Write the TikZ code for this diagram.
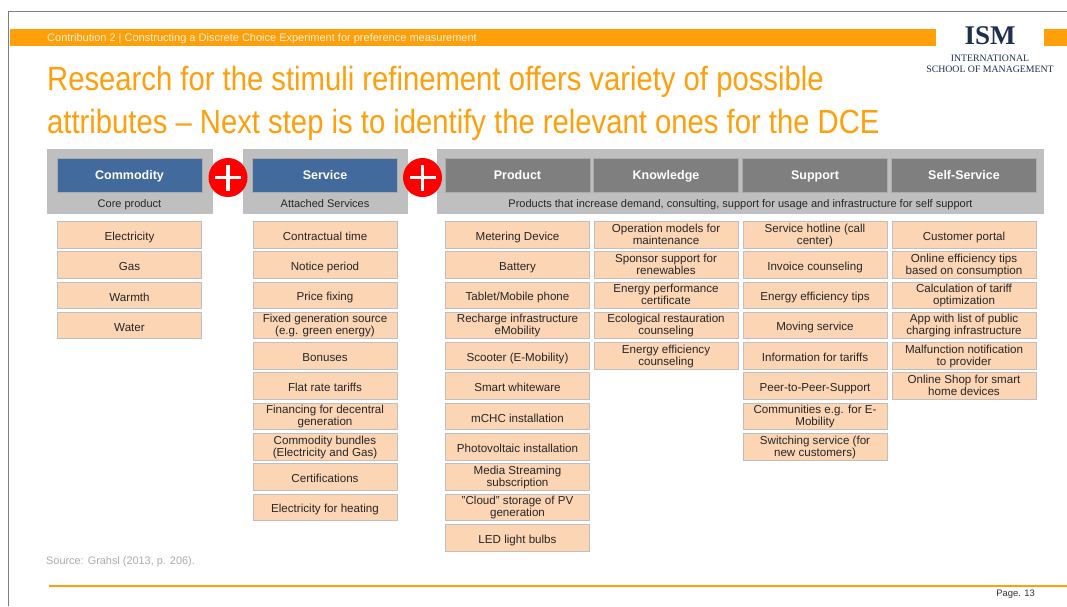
\documentclass[tikz,border=0pt]{standalone}
\usepackage{fontspec}
\setmainfont{Liberation Sans}
\newfontfamily\logofont{Liberation Serif}
\newfontfamily\titlefont[FakeStretch=0.873]{Liberation Sans}
\definecolor{ismorange}{HTML}{FF9F0A}
\definecolor{ismblue}{HTML}{426A9D}
\definecolor{ismgrey}{HTML}{7F7F7F}
\definecolor{panelgrey}{HTML}{BFBFBF}
\definecolor{peach}{HTML}{FCD5B5}
\definecolor{ismnavy}{HTML}{1F2F4F}
\newcommand{\lineprop}{\rule[-1.5pt]{0pt}{14pt}}
\tikzstyle{attr} = [rectangle, draw=panelgrey, line width=1pt, fill=peach, minimum width=144pt, minimum height=26.5pt, inner sep=0pt, align=center, text=black!85, font=\fontsize{11.6}{12}\selectfont, execute at begin node=\lineprop, execute at end node=\lineprop]
\tikzstyle{panel} = [rectangle, fill=panelgrey, inner sep=0pt, minimum height=65pt]
\tikzstyle{head} = [rectangle, draw=panelgrey!70!ismgrey, line width=.5pt, inner sep=0pt, minimum width=145pt, minimum height=34pt, text height=10.5pt, text depth=2.5pt, text=white, font=\fontsize{12.5}{14}\selectfont\bfseries]
\tikzstyle{bluehead} = [head, fill=ismblue]
\tikzstyle{greyhead} = [head, fill=ismgrey]
\tikzstyle{sublabel} = [inner sep=0pt, text height=10pt, text depth=3pt, text=black!85, font=\fontsize{11}{14}\selectfont]
\tikzstyle{plus} = [circle, fill=red, inner sep=0pt, minimum size=39pt]
\tikzstyle{cross} = [white, line width=3.6pt]
\tikzstyle{titleline} = [inner sep=0pt, anchor=base west, text=ismorange, font=\titlefont\fontsize{33.5}{36}\selectfont]

\begin{document}
\begin{tikzpicture}[x=1pt,y=-1pt]
      \useasboundingbox (0,0) rectangle (1067,606);
      \fill[white] (0,0) rectangle (1067,606);
      % frame and bars
      \coordinate (f1) at (8.5,606);
      \coordinate (f2) at (8.5,11.5);
      \coordinate (f3) at (1067,11.5);
      \draw[ismgrey, line width=1.6pt] (f1) -- (f2) -- (f3);
      \fill[ismorange] (9.5,28.5) rectangle (936,46);
      \fill[ismorange] (1044,28.5) rectangle (1067,46);
      \coordinate (r1) at (49,586);
      \coordinate (r2) at (1067,586);
      \draw[ismorange, line width=2.4pt] (r1) -- (r2);
      % texts of the slide
      \node[inner sep=0pt, anchor=west, text=white!85!ismorange, font=\fontsize{11}{14}\selectfont] (bar) at (47,38.5) {Contribution 2 | Constructing a Discrete Choice Experiment for preference measurement};
      \node[titleline] (t1) at (47,90) {Research for the stimuli refinement offers variety of possible};
      \node[titleline] (t2) at (47,133) {attributes – Next step is to identify the relevant ones for the DCE};
      \node[inner sep=0pt, anchor=west, text=panelgrey!90!black, font=\fontsize{10.9}{12}\selectfont] (src) at (46,562) {Source: Grahsl (2013, p. 206).};
      \node[inner sep=0pt, anchor=east, text=black!80, font=\fontsize{9.4}{12}\selectfont] (page) at (1035,594) {Page. 13};
      % logo
      \node[inner sep=0pt, text=ismnavy, font=\logofont\fontsize{27}{28}\selectfont\bfseries] (ism) at (990,36) {ISM};
      \node[inner sep=0pt, text=ismnavy, font=\logofont\fontsize{9.8}{11}\selectfont] (ism1) at (990,58.5) {INTERNATIONAL};
      \node[inner sep=0pt, text=ismnavy, font=\logofont\fontsize{9.8}{11}\selectfont] (ism2) at (990,69) {SCHOOL OF MANAGEMENT};
      % panels
      \node[panel, minimum width=166pt] (p1) at (129.5,181.5) {};
      \node[panel, minimum width=165pt] (p2) at (325,181.5) {};
      \node[panel, minimum width=607pt] (p3) at (740.5,181.5) {};
      \node[bluehead] (commodity) at (129.5,175) {Commodity};
      \node[bluehead] (service) at (325,175) {Service};
      \node[greyhead] (product) at (517.5,175) {Product};
      \node[greyhead] (knowledge) at (666,175) {Knowledge};
      \node[greyhead] (support) at (815,175) {Support};
      \node[greyhead] (selfservice) at (964,175) {Self-Service};
      \node[sublabel] (s1) at (129.5,203.5) {Core product};
      \node[sublabel] (s2) at (325,203.5) {Attached Services};
      \node[sublabel] (s3) at (740.5,203.5) {Products that increase demand, consulting, support for usage and infrastructure for self support};
      % plus signs
      \node[plus] (plus1) at (228,177.5) {};
      \draw[cross] ([xshift=-13pt]plus1.center) -- ([xshift=13pt]plus1.center);
      \draw[cross] ([yshift=-13pt]plus1.center) -- ([yshift=13pt]plus1.center);
      \node[plus] (plus2) at (422.5,177.5) {};
      \draw[cross] ([xshift=-13pt]plus2.center) -- ([xshift=13pt]plus2.center);
      \draw[cross] ([yshift=-13pt]plus2.center) -- ([yshift=13pt]plus2.center);
      % commodity
      \node[attr] (a1) at (129.5,235) {Electricity};
      \node[attr] (a2) at (129.5,265) {Gas};
      \node[attr] (a3) at (129.5,295.5) {Warmth};
      \node[attr] (a4) at (129.5,325.5) {Water};
      % service
      \node[attr] (b1) at (325,235) {Contractual time};
      \node[attr] (b2) at (325,265) {Notice period};
      \node[attr] (b3) at (325,295.5) {Price fixing};
      \node[attr] (b4) at (325,325.5) {Fixed generation source\\(e.g. green energy)};
      \node[attr] (b5) at (325,356) {Bonuses};
      \node[attr] (b6) at (325,386) {Flat rate tariffs};
      \node[attr] (b7) at (325,416.5) {Financing for decentral\\generation};
      \node[attr] (b8) at (325,447) {Commodity bundles\\(Electricity and Gas)};
      \node[attr] (b9) at (325,477) {Certifications};
      \node[attr] (b10) at (325,507.5) {Electricity for heating};
      % product
      \node[attr] (c1) at (517.5,235) {Metering Device};
      \node[attr] (c2) at (517.5,265) {Battery};
      \node[attr] (c3) at (517.5,295.5) {Tablet/Mobile phone};
      \node[attr] (c4) at (517.5,325.5) {Recharge infrastructure\\eMobility};
      \node[attr] (c5) at (517.5,356) {Scooter (E-Mobility)};
      \node[attr] (c6) at (517.5,386) {Smart whiteware};
      \node[attr] (c7) at (517.5,416.5) {mCHC installation};
      \node[attr] (c8) at (517.5,447) {Photovoltaic installation};
      \node[attr] (c9) at (517.5,477) {Media Streaming\\subscription};
      \node[attr] (c10) at (517.5,507.5) {"Cloud" storage of PV\\generation};
      \node[attr] (c11) at (517.5,538) {LED light bulbs};
      % knowledge
      \node[attr] (d1) at (666,235) {Operation models for\\maintenance};
      \node[attr] (d2) at (666,265) {Sponsor support for\\renewables};
      \node[attr] (d3) at (666,295.5) {Energy performance\\certificate};
      \node[attr] (d4) at (666,325.5) {Ecological restauration\\counseling};
      \node[attr] (d5) at (666,356) {Energy efficiency\\counseling};
      % support
      \node[attr] (e1) at (815,235) {Service hotline (call\\center)};
      \node[attr] (e2) at (815,265) {Invoice counseling};
      \node[attr] (e3) at (815,295.5) {Energy efficiency tips};
      \node[attr] (e4) at (815,325.5) {Moving service};
      \node[attr] (e5) at (815,356) {Information for tariffs};
      \node[attr] (e6) at (815,386) {Peer-to-Peer-Support};
      \node[attr] (e7) at (815,416.5) {Communities e.g. for E-\\Mobility};
      \node[attr] (e8) at (815,447) {Switching service (for\\new customers)};
      % self-service
      \node[attr] (g1) at (964,235) {Customer portal};
      \node[attr] (g2) at (964,265) {Online efficiency tips\\based on consumption};
      \node[attr] (g3) at (964,295.5) {Calculation of tariff\\optimization};
      \node[attr] (g4) at (964,325.5) {App with list of public\\charging infrastructure};
      \node[attr] (g5) at (964,356) {Malfunction notification\\to provider};
      \node[attr] (g6) at (964,386) {Online Shop for smart\\home devices};
    \end{tikzpicture}
\end{document}
